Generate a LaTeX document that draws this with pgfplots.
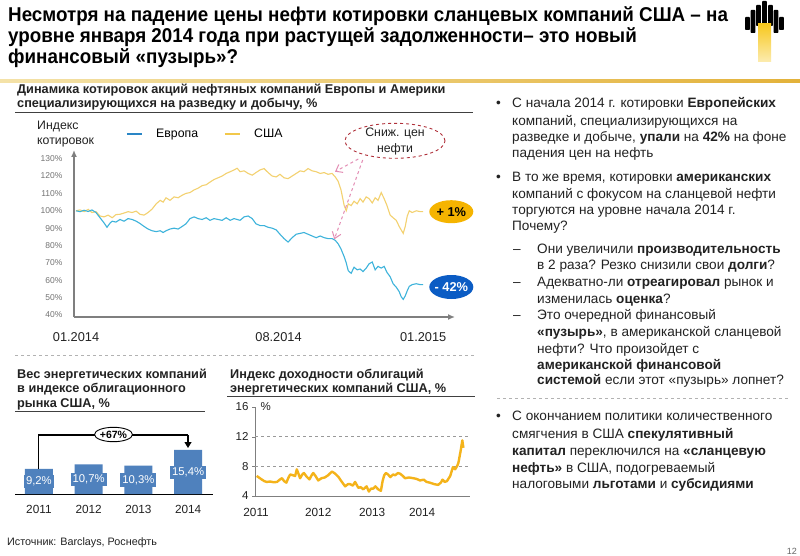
\documentclass[border=0pt]{standalone}
\usepackage{fontspec}
\setmainfont{Liberation Sans}
\newfontfamily\titlefont[FakeStretch=0.94]{Liberation Sans}
\usepackage{pgfplots}
\pgfplotsset{compat=1.18}
\usetikzlibrary{arrows.meta,shapes.geometric}
\definecolor{txt}{HTML}{222222}
\definecolor{axisgray}{HTML}{7F7F7F}
\definecolor{usaline}{HTML}{F3D170}
\definecolor{euline}{HTML}{3DB3DB}
\definecolor{uslegend}{HTML}{F2C84B}
\definecolor{eulegend}{HTML}{2A86C6}
\definecolor{barblue}{HTML}{4F81BD}
\definecolor{yieldline}{HTML}{F4B31A}
\definecolor{calloutred}{HTML}{B0303A}
\definecolor{pinkarrow}{HTML}{E38DB4}
\definecolor{badgey}{HTML}{F5B400}
\definecolor{badgeb}{HTML}{0B5CC4}
\definecolor{gold1}{HTML}{F4E2A8}
\definecolor{gold2}{HTML}{E3B23A}
\definecolor{logoyellow}{HTML}{F7C81E}
\newcommand{\fs}[1]{\fontsize{#1}{#1}\selectfont}
\newcommand{\tl}[3]{\node[anchor=base west,inner sep=0,font=\fs{13.6},text=txt] at (#1,-#2-4.7) {#3};}
\begin{document}
\begin{tikzpicture}
\begin{scope}[x=1pt,y=1pt]
\useasboundingbox (0,0) rectangle (800,-556);
\fill[white] (0,0) rectangle (800,-556);
% title
\node[anchor=base west,inner sep=0,text=black] at (8,-22) {\titlefont\bfseries\fs{20}Несмотря на падение цены нефти котировки сланцевых компаний США – на};
\node[anchor=base west,inner sep=0,text=black] at (8,-42.5) {\titlefont\bfseries\fs{20}уровне января 2014 года при растущей задолженности– это новый};
\node[anchor=base west,inner sep=0,text=black] at (8,-63.5) {\titlefont\bfseries\fs{20}финансовый «пузырь»?};
\shade[left color=gold1,right color=gold2] (0,-79.5) rectangle (800,-82.5);
% logo
\foreach \cx/\tp/\bt in {747.5/17/30,753/10/33,758.5/5/26,764.5/1/24,770.5/5/26,776/10/33,781.5/17/30}
  {\fill[black,rounded corners=0.8pt] (\cx-2.4,-\tp) rectangle (\cx+2.4,-\bt);}
\shade[top color=logoyellow,bottom color=logoyellow!35] (758,-24) rectangle (771,-62);
% section 1 header
\node[anchor=base west,inner sep=0,font=\bfseries\fs{12.7},text=txt] at (17,-93.5) {Динамика котировок акций нефтяных компаний Европы и Америки};
\node[anchor=base west,inner sep=0,font=\bfseries\fs{12.7},text=txt] at (17,-108) {специализирующихся на разведку и добычу, \%};
\draw[black!75,line width=0.8pt] (15,-112.5) -- (473,-112.5);
\node[anchor=base west,inner sep=0,font=\fs{12.3},text=txt,align=left] at (37,-129.5) {Индекс};
\node[anchor=base west,inner sep=0,font=\fs{12.3},text=txt,align=left] at (37,-144.5) {котировок};
\end{scope}

\begin{axis}[at={(74pt,-317pt)},anchor=south west,scale only axis,
  width=381pt,height=167pt,
  xmin=-0.07,xmax=13.1,ymin=38.85,ymax=135,
  axis lines=left,
  axis line style={draw=axisgray,line width=1.5pt,-{Latex[length=7pt,width=6pt]}},
  ytick={40,50,60,70,80,90,100,110,120,130},
  yticklabels={40\%,50\%,60\%,70\%,80\%,90\%,100\%,110\%,120\%,130\%},
  yticklabel style={font=\fs{8.5},text=black!55,xshift=-8pt},
  xtick={0,7,12},xticklabels={01.2014,08.2014,01.2015},
  xticklabel style={font=\fs{12.8},text=txt,yshift=-12pt},
  major tick length=0pt,
  clip=false,
  legend columns=2,
  legend style={at={(0.1286,1.096)},anchor=west,draw=none,fill=none,font=\fs{12.3},
    /tikz/every even column/.append style={column sep=24pt}},
  legend image code/.code={\draw[#1,line width=1.6pt] (0pt,0pt) -- (15pt,0pt);\path (27pt,0pt);},
]
\addlegendimage{eulegend}
\addlegendentry{Европа}
\addlegendimage{uslegend}
\addlegendentry{США}
% USA
\addplot[usaline,line width=1.1pt,forget plot] coordinates {
(0,100)(0.14,100.5)(0.28,99.5)(0.42,100.8)(0.55,99)(0.69,99.5)(0.83,97)(0.97,96.5)(1.11,97.5)(1.25,96)
(1.38,97.8)(1.52,98)(1.66,98.7)(1.80,99.5)(1.94,99)(2.08,99.8)(2.21,98)(2.35,97.5)(2.49,99)(2.63,101)
(2.77,104)(2.91,106)(3.01,105)(3.11,107.5)(3.25,106)(3.39,108)(3.53,107.5)(3.67,109)(3.80,110)(3.94,110.5)
(4.08,112)(4.22,113)(4.36,114.5)(4.50,115)(4.63,116.5)(4.77,118)(4.91,119)(5.05,120)(5.19,121.5)(5.33,122.5)
(5.46,123.5)(5.57,124.5)(5.67,122.5)(5.81,123)(5.95,121.5)(6.09,120.5)(6.22,122)(6.36,123.5)(6.50,124.3)(6.64,122)
(6.78,120)(6.92,119.5)(7.05,121)(7.19,119)(7.33,118.5)(7.47,120)(7.61,121.5)(7.75,123)(7.88,122.5)(8.02,124.3)
(8.16,123)(8.30,122.5)(8.44,121.5)(8.58,122)(8.71,121)(8.85,121.5)(8.96,119.5)(9.06,117)(9.16,112)(9.27,103)
(9.34,100)(9.41,104)(9.51,103)(9.61,105.5)(9.72,104)(9.82,107)(9.92,105)(10.03,108)(10.13,107)(10.24,104.5)
(10.34,107.5)(10.44,106)(10.55,110.5)(10.65,107)(10.75,103)(10.86,97.5)(10.96,96)(11.07,94.5)(11.17,91)(11.24,89)
(11.31,87)(11.38,91)(11.45,97)(11.52,100)(11.62,99)(11.76,100)(11.90,99.5)(12.00,99.5)};
% Europe
\addplot[euline,line width=1.1pt,forget plot] coordinates {
(0,100)(0.14,99.5)(0.28,100.3)(0.42,99.6)(0.55,100.5)(0.69,99)(0.83,96)(0.97,93)(1.07,90.5)(1.18,93)
(1.25,94)(1.38,93.5)(1.52,95)(1.66,94)(1.80,95.5)(1.94,95)(2.08,94)(2.21,92.7)(2.35,91)(2.49,89.5)
(2.63,88.5)(2.77,88)(2.91,88.5)(3.01,87.5)(3.11,88.5)(3.25,89.5)(3.39,90)(3.53,89.5)(3.67,91)(3.80,92.5)
(3.94,95.5)(4.08,96.5)(4.22,95.5)(4.36,95)(4.50,96)(4.63,94.5)(4.77,95.5)(4.91,95)(5.05,94.5)(5.19,96)
(5.33,94.5)(5.46,95.5)(5.57,95)(5.67,94.5)(5.81,96.5)(5.95,97)(6.09,95.5)(6.22,92.5)(6.36,91.5)(6.50,91.5)
(6.64,90.5)(6.78,90)(6.92,89)(7.05,86.5)(7.19,84)(7.33,82)(7.47,84.5)(7.61,86.5)(7.75,87)(7.88,87.5)
(8.02,86.5)(8.16,85.5)(8.30,84.5)(8.44,85.5)(8.58,84.5)(8.71,84)(8.85,84)(8.96,83)(9.06,81)(9.16,78)
(9.27,73.5)(9.34,70)(9.41,65.5)(9.51,64)(9.61,67.5)(9.72,66)(9.82,66.5)(9.92,65)(10.03,67)(10.13,69.5)
(10.24,70.5)(10.34,66)(10.44,68)(10.55,67)(10.65,68)(10.75,64.5)(10.86,62)(10.96,58)(11.07,56)(11.17,53.5)
(11.24,50.5)(11.31,49)(11.38,51)(11.45,54)(11.52,56.5)(11.62,57.5)(11.76,58)(11.90,57.5)(12.00,57.5)};
\end{axis}

% bar chart
\begin{axis}[at={(15pt,-494pt)},anchor=south west,scale only axis,
  width=198pt,height=55.08pt,
  xmin=-0.48,xmax=3.5,ymin=1,ymax=19,
  axis x line*=bottom,axis y line=none,
  axis line style={black,line width=0.8pt,-},
  xtick={0,1,2,3},xticklabels={2011,2012,2013,2014},
  xticklabel style={font=\fs{11.8},text=txt,yshift=-8pt},
  major tick length=0pt,
  ybar,bar width=28pt,
  clip=false,
]
\addplot[fill=barblue,draw=none] coordinates {(0,9.2)(1,10.7)(2,10.3)(3,15.4)};
\node[fill=barblue,text=white,font=\fs{11.3},inner sep=2pt] at (axis cs:0,5.0) {9,2\%};
\node[fill=barblue,text=white,font=\fs{11.3},inner sep=2pt] at (axis cs:1,5.8) {10,7\%};
\node[fill=barblue,text=white,font=\fs{11.3},inner sep=2pt] at (axis cs:2,5.6) {10,3\%};
\node[fill=barblue,text=white,font=\fs{11.3},inner sep=2pt] at (axis cs:3,8.1) {15,4\%};
\end{axis}

% yield chart
\begin{axis}[at={(255pt,-496pt)},anchor=south west,scale only axis,
  width=215pt,height=89pt,
  xmin=2010.98,xmax=2014.89,ymin=4,ymax=16,
  axis x line*=bottom,axis y line*=left,
  axis line style={axisgray,line width=0.8pt,-},
  /pgf/number format/assume math mode=true,
  ytick={4,8,12,16},
  yticklabel style={font=\fs{11.5},text=txt},
  xtick={2011,2012.13,2013.11,2014.02},xticklabels={2011,2012,2013,2014},
  xticklabel style={font=\fs{11.8},text=txt,yshift=-6pt},
  xtick style={draw=none},
  ytick style={axisgray},
  major tick length=3pt,tick align=outside,
  clip=false,
]
\draw[black!40,dashed,line width=0.8pt] (axis cs:2010.98,12) -- (axis cs:2014.89,12);
\draw[black!40,dashed,line width=0.8pt] (axis cs:2010.98,8) -- (axis cs:2014.89,8);
\addplot[yieldline,line width=2.4pt,line join=round] coordinates {
(2011.01,6.7)(2011.05,6.5)(2011.10,6.24)(2011.15,6.0)(2011.19,5.9)(2011.26,5.95)(2011.32,5.85)(2011.38,5.9)
(2011.43,6.2)(2011.47,6.4)(2011.51,6.0)(2011.55,5.8)(2011.59,6.5)(2011.62,6.9)(2011.67,6.8)(2011.71,6.7)
(2011.74,7.6)(2011.77,7.0)(2011.80,6.4)(2011.84,6.9)(2011.87,7.1)(2011.92,6.6)(2011.97,6.24)(2012.01,6.8)
(2012.04,7.1)(2012.08,6.7)(2012.13,6.1)(2012.19,6.4)(2012.25,6.5)(2012.31,6.8)(2012.38,7.3)(2012.44,7.0)
(2012.50,6.55)(2012.55,6.0)(2012.59,5.6)(2012.62,5.3)(2012.67,5.6)(2012.71,5.6)(2012.76,5.4)(2012.80,5.9)
(2012.83,5.5)(2012.86,5.1)(2012.90,5.2)(2012.95,4.9)(2013.01,5.3)(2013.05,4.6)(2013.09,5.0)(2013.13,5.0)
(2013.17,5.3)(2013.22,4.9)(2013.27,4.7)(2013.30,6.0)(2013.33,6.8)(2013.36,7.1)(2013.40,6.9)(2013.44,6.55)
(2013.49,6.9)(2013.53,6.8)(2013.58,7.1)(2013.62,7.0)(2013.67,6.7)(2013.71,6.4)(2013.78,6.5)(2013.86,6.4)
(2013.92,6.3)(2013.98,6.1)(2014.05,6.2)(2014.10,5.9)(2014.16,5.8)(2014.24,5.6)(2014.31,5.5)(2014.36,5.8)
(2014.39,6.2)(2014.43,5.9)(2014.47,6.0)(2014.53,6.7)(2014.58,7.9)(2014.62,7.6)(2014.66,8.1)(2014.68,8.5)
(2014.72,10.1)(2014.75,11.5)(2014.77,10.5)};
\node[anchor=west,font=\fs{11.5},text=txt,inner sep=0] at (axis cs:2011.08,16) {\%};
\end{axis}

\begin{scope}[x=1pt,y=1pt]
% callouts chart 1
\draw[calloutred,dashed,line width=0.9pt,fill=white] (395,-140.8) ellipse (50 and 17.5);
\node[font=\fs{12.3},text=txt,inner sep=0,anchor=base] at (395,-136.5) {Сниж. цен};
\node[font=\fs{12.3},text=txt,inner sep=0,anchor=base] at (395,-153) {нефти};
\draw[pinkarrow,dashed,line width=1pt,-{Straight Barb[length=6pt,width=9pt]}] (358.3,-159) -- (335,-171.7);
\draw[pinkarrow,dashed,line width=1pt,-{Straight Barb[length=6pt,width=9pt]}] (362.7,-160) -- (334.3,-239.3);
\fill[badgey] (451.3,-211.7) ellipse (22 and 11.5);
\node[font=\bfseries\fs{12.8},text=black] at (451.3,-211.7) {+ 1\%};
\fill[badgeb] (451.3,-287) ellipse (22 and 12);
\node[font=\bfseries\fs{12.8},text=white] at (451.3,-287) {- 42\%};
% separators
\draw[black!30,dashed,line width=0.8pt] (15,-355) -- (475,-355);
% bottom left header
\node[anchor=base west,inner sep=0,font=\bfseries\fs{12.7},text=txt] at (17,-378.3) {Вес энергетических компаний};
\node[anchor=base west,inner sep=0,font=\bfseries\fs{12.7},text=txt] at (17,-392.7) {в индексе облигационного};
\node[anchor=base west,inner sep=0,font=\bfseries\fs{12.7},text=txt] at (17,-407.3) {рынка США, \%};
\draw[black!75,line width=0.8pt] (15,-411.7) -- (205,-411.7);
% bracket
\draw[black,line width=1.1pt] (38.5,-469) -- (38.5,-435) -- (188,-435);
\draw[black,line width=1.1pt,-{Triangle[length=6pt,width=7pt]}] (188,-435) -- (188,-448);
\draw[black,line width=0.9pt,fill=white] (113.5,-434.5) ellipse (19 and 7.2);
\node[font=\bfseries\fs{10.5},text=black] at (113.5,-434.5) {+67\%};
% bottom right header
\node[anchor=base west,inner sep=0,font=\bfseries\fs{12.7},text=txt] at (230,-378.3) {Индекс доходности облигаций};
\node[anchor=base west,inner sep=0,font=\bfseries\fs{12.7},text=txt] at (230,-392.7) {энергетических компаний США, \%};
\draw[black!75,line width=0.8pt] (227,-396.7) -- (475,-396.7);
% footer
\node[anchor=base west,inner sep=0,font=\fs{10.8},text=txt] at (7,-545.5) {Источник: Barclays, Роснефть};
\node[anchor=base east,inner sep=0,font=\fs{9},text=black!60] at (797,-554) {12};
% right text
\node[anchor=base west,inner sep=0,font=\fs{13.6},text=txt] at (496,-108) {•};
\tl{512}{103.3}{С начала 2014 г. котировки \textbf{Европейских}}
\tl{512}{120.7}{компаний, специализирующихся на}
\tl{512}{137.3}{разведке и добыче, \textbf{упали} на \textbf{42\%} на фоне}
\tl{512}{153.3}{падения цен на нефть}
\node[anchor=base west,inner sep=0,font=\fs{13.6},text=txt] at (496,-181.4) {•};
\tl{512}{176.7}{В то же время, котировки \textbf{американских}}
\tl{512}{193.3}{компаний с фокусом на сланцевой нефти}
\tl{512}{210}{торгуются на уровне начала 2014 г.}
\tl{512}{225.7}{Почему?}
\tl{513}{248.3}{–}
\tl{537}{248.3}{Они увеличили \textbf{производительность}}
\tl{537}{264.3}{в 2 раза? Резко снизили свои \textbf{долги}?}
\tl{513}{281.7}{–}
\tl{537}{281.7}{Адекватно-ли \textbf{отреагировал} рынок и}
\tl{537}{298.3}{изменилась \textbf{оценка}?}
\tl{513}{315}{–}
\tl{537}{315}{Это очередной финансовый}
\tl{537}{331.7}{\textbf{«пузырь»}, в американской сланцевой}
\tl{537}{348.3}{нефти? Что произойдет с}
\tl{537}{365}{\textbf{американской финансовой}}
\tl{537}{380}{\textbf{системой} если этот «пузырь» лопнет?}
\draw[black!30,dashed,line width=0.8pt] (497,-398.3) -- (790,-398.3);
\node[anchor=base west,inner sep=0,font=\fs{13.6},text=txt] at (496,-420.7) {•};
\tl{512}{416}{С окончанием политики количественного}
\tl{512}{433.3}{смягчения в США \textbf{спекулятивный}}
\tl{512}{451}{\textbf{капитал} переключился на \textbf{«сланцевую}}
\tl{512}{467.3}{\textbf{нефть»} в США, подогреваемый}
\tl{512}{483.3}{налоговыми \textbf{льготами} и \textbf{субсидиями}}
\end{scope}
\end{tikzpicture}
\end{document}
